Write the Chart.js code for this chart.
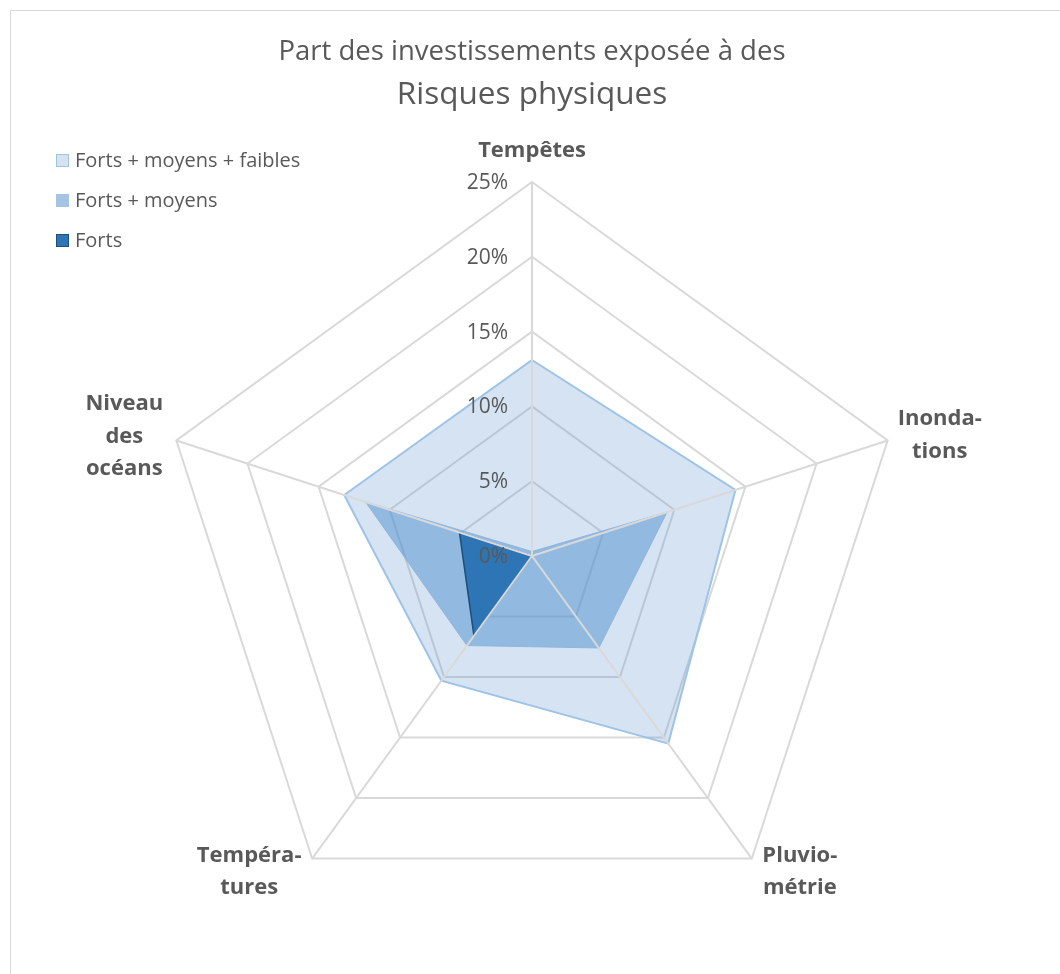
<!DOCTYPE html>
<html lang="fr">
<head>
<meta charset="utf-8">
<title>Risques physiques</title>
<script src="https://cdn.jsdelivr.net/npm/chart.js@4.4.1/dist/chart.umd.min.js"></script>
<style>
    html, body { margin: 0; padding: 0; background: #fff; overflow: hidden; }
    #cadre { position: absolute; left: 10px; top: 10px; width: 1100px; height: 1000px; border: 1px solid #d9d9d9; }
    #zone { position: absolute; left: 0; top: 0; width: 1060px; height: 974px; }
    #legende { position: absolute; left: 56px; top: 146px; font-family: 'Open Sans', sans-serif; font-size: 20px; color: #595959; }
    #legende div { height: 40px; line-height: 28px; white-space: nowrap; }
    #legende span.carre { display: inline-block; width: 11px; height: 11px; border: 1.5px solid; margin-right: 6px; vertical-align: 0px; }
</style>
</head>
<body>
<div id="cadre"></div>
<div id="zone"><canvas id="radar"></canvas></div>
<div id="legende"></div>

<script>
// Données (en %)
const axes = [['Tempêtes'], ['Inonda-', 'tions'], ['Pluvio-', 'métrie'], ['Tempéra-', 'tures'], ['Niveau', 'des', 'océans']];
const graduations = [0, 5, 10, 15, 20, 25];
const fortsMoyensFaibles = [13.1, 14.3, 15.5, 10.3, 13.2];
const fortsMoyens = [0.3, 9.5, 7.6, 7.4, 11.7];
const forts = [0, 0, 0, 6.6, 5.1];

// Décalage des libellés par rapport au sommet de chaque axe
const decalages = [[0, -31], [52, -5], [48, 13], [-63, 13], [-52, -4]];

const gris = '#595959';

const series = [
    { label: 'Forts + moyens + faibles', data: fortsMoyensFaibles, fond: 'rgba(80, 140, 205, 0.24)', trait: '#9dc3e6', carre: '#d6e2f0', bord: '#9dc3e6', largeur: 2, ordre: 3 },
    { label: 'Forts + moyens', data: fortsMoyens, fond: 'rgba(80, 145, 205, 0.5)', trait: 'rgba(140, 180, 220, 0.9)', carre: '#a5c3e4', bord: '#a5c3e4', largeur: 1, ordre: 2 },
    { label: 'Forts', data: forts, fond: '#2e75b6', trait: '#1f4e79', carre: '#2e75b6', bord: '#1f4e79', largeur: 1.5, ordre: 1 }
];

// Axes et libellés dessinés au-dessus des aires, comme dans Excel
const habillage = {
    id: 'habillage',
    afterDatasetsDraw(chart) {
        const r = chart.scales.r;
        const ctx = chart.ctx;
        ctx.save();

        ctx.strokeStyle = '#d9d9d9';
        ctx.lineWidth = 2;
        axes.forEach((_, i) => {
            const p = r.getPointPosition(i, r.drawingArea);
            ctx.beginPath();
            ctx.moveTo(r.xCenter, r.yCenter);
            ctx.lineTo(p.x, p.y);
            ctx.stroke();
        });

        ctx.fillStyle = gris;
        ctx.textBaseline = 'middle';
        ctx.font = '21px "Open Sans"';
        ctx.textAlign = 'right';
        graduations.forEach(v => {
            const y = r.yCenter - r.getDistanceFromCenterForValue(v);
            ctx.fillText(v + '%', r.xCenter - 24, y + 1);
        });

        ctx.font = 'bold 22px "Open Sans"';
        ctx.textAlign = 'center';
        axes.forEach((lignes, i) => {
            const p = r.getPointPosition(i, r.drawingArea);
            const [dx, dy] = decalages[i];
            const y0 = p.y + dy - (lignes.length - 1) * 32.5 / 2;
            lignes.forEach((t, k) => ctx.fillText(t, p.x + dx, y0 + k * 32.5));
        });
        ctx.restore();
    }
};

new Chart(document.getElementById('radar'), {
    type: 'radar',
    data: {
        labels: axes.map(l => l.join(' ')),
        datasets: series.map(s => ({
            label: s.label,
            data: s.data,
            backgroundColor: s.fond,
            borderColor: s.trait,
            borderWidth: s.largeur,
            fill: true,
            tension: 0,
            pointRadius: 0,
            pointHoverRadius: 0,
            order: s.ordre
        }))
    },
    options: {
        responsive: true,
        maintainAspectRatio: false,
        animation: false,
        layout: { padding: { left: 158, right: 154, top: 24, bottom: 43 } },
        plugins: {
            legend: { display: false },
            tooltip: { enabled: false },
            title: {
                display: true,
                text: 'Part des investissements exposée à des',
                color: gris,
                font: { family: "'Open Sans'", size: 27.5, weight: 'normal' },
                padding: { top: 11.5, bottom: 3 }
            },
            subtitle: {
                display: true,
                text: 'Risques physiques',
                color: gris,
                font: { family: "'Open Sans'", size: 31.5, weight: 'normal' },
                padding: { top: 4.5, bottom: 68 }
            }
        },
        scales: {
            r: {
                min: 0,
                max: 25,
                ticks: { display: false, stepSize: 5 },
                pointLabels: { display: false },
                angleLines: { display: false },
                grid: { color: '#d9d9d9', lineWidth: 2 }
            }
        }
    },
    plugins: [habillage]
});

// Légende HTML en haut à gauche
const legende = document.getElementById('legende');
series.forEach(s => {
    const ligne = document.createElement('div');
    ligne.innerHTML = '<span class="carre" style="background:' + s.carre + ';border-color:' + s.bord + '"></span>' + s.label;
    legende.appendChild(ligne);
});
</script>
</body>
</html>
